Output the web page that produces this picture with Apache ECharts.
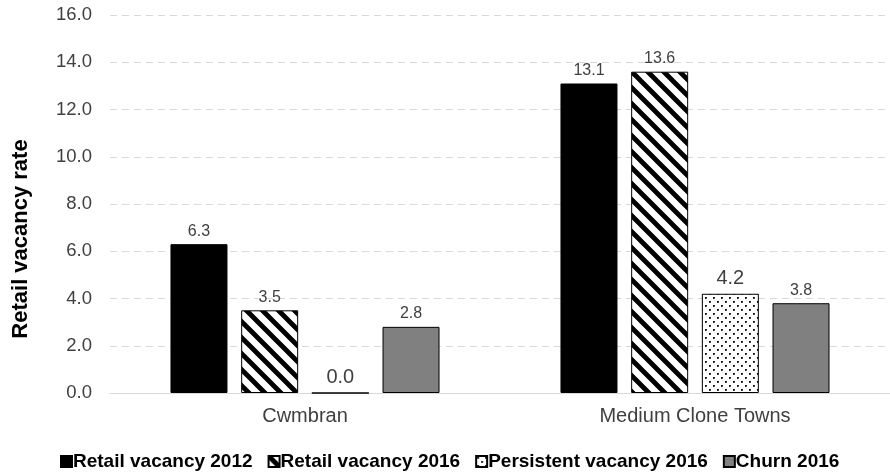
<!DOCTYPE html>
<html><head><meta charset="utf-8">
<script src="https://cdn.jsdelivr.net/npm/echarts@6/dist/echarts.min.js"></script>
<style>html,body{margin:0;padding:0;background:#fff}#c{width:890px;height:475px}</style>
</head><body><div id="c"></div>
<script>
const categories = ['Cwmbran', 'Medium Clone Towns'];
const seriesNames = ['Retail vacancy 2012', 'Retail vacancy 2016', 'Persistent vacancy 2016', 'Churn 2016'];
const vacancy2012 = [6.3, 13.1];
const vacancy2016 = [3.5, 13.6];
const persistent2016 = [0.0, 4.2];
const churn2016 = [2.8, 3.8];

function stripePattern() {
  const s = 16, c = document.createElement('canvas');
  c.width = s; c.height = s;
  const g = c.getContext('2d');
  g.fillStyle = '#fff'; g.fillRect(0, 0, s, s);
  g.strokeStyle = '#000'; g.lineWidth = 4.8;
  g.beginPath();
  for (let k = -1; k <= 1; k++) {
    g.moveTo(k * s - 2, -2); g.lineTo(k * s + s + 2, s + 2);
  }
  g.stroke();
  return c;
}
function dotPattern() {
  const s = 8, c = document.createElement('canvas');
  c.width = s; c.height = s;
  const g = c.getContext('2d');
  g.fillStyle = '#fff'; g.fillRect(0, 0, s, s);
  g.fillStyle = '#000';
  g.fillRect(1, 1, 1.8, 1.8);
  g.fillRect(5, 5, 1.8, 1.8);
  return c;
}
const stripe = { image: stripePattern(), repeat: 'repeat' };
const dots = { image: dotPattern(), repeat: 'repeat' };

const chart = echarts.init(document.getElementById('c'));
function bar(name, data, color, labelSize) {
  return {
    name, type: 'bar', data,
    barWidth: 57, barGap: '24%',
    itemStyle: { color, borderColor: '#000', borderWidth: 1 },
    label: { show: true, position: 'top', distance: 5, color: '#404040',
      fontFamily: 'Liberation Sans', fontSize: labelSize,
      formatter: p => p.value.toFixed(1) }
  };
}
chart.setOption({
  animation: false,
  backgroundColor: '#fff',
  grid: { left: 110, right: 0, top: 15, bottom: 82, containLabel: false },
  legend: {
    top: 447, left: 55, itemWidth: 11, itemHeight: 11, itemGap: 15,
    icon: 'rect',
    textStyle: { fontFamily: 'Liberation Sans', fontWeight: 'bold', fontSize: 19, color: '#000', padding: [0, 0, 0, -4] },
    data: seriesNames
  },
  xAxis: {
    type: 'category', data: categories,
    axisLine: { lineStyle: { color: '#d9d9d9', width: 1 } },
    axisTick: { show: false },
    axisLabel: { color: '#404040', fontFamily: 'Liberation Sans', fontSize: 20, margin: 13 }
  },
  yAxis: {
    type: 'value', min: 0, max: 16, interval: 2,
    name: 'Retail vacancy rate', nameLocation: 'middle', nameGap: 78,
    nameTextStyle: { fontFamily: 'Liberation Sans', fontWeight: 'bold', fontSize: 22, color: '#000',
      padding: [0, 70, 0, 0] },
    axisLine: { show: false }, axisTick: { show: false },
    axisLabel: { color: '#404040', fontFamily: 'Liberation Sans', fontSize: 18.5, margin: 18,
      formatter: v => v.toFixed(1) },
    splitLine: { lineStyle: { color: '#d9d9d9', type: [7, 5], width: 1 } }
  },
  series: [
    bar(seriesNames[0], vacancy2012, '#000', 16),
    bar(seriesNames[1], vacancy2016, stripe, 16),
    bar(seriesNames[2], persistent2016, dots, 20),
    bar(seriesNames[3], churn2016, '#808080', 16)
  ]
});
</script></body></html>
